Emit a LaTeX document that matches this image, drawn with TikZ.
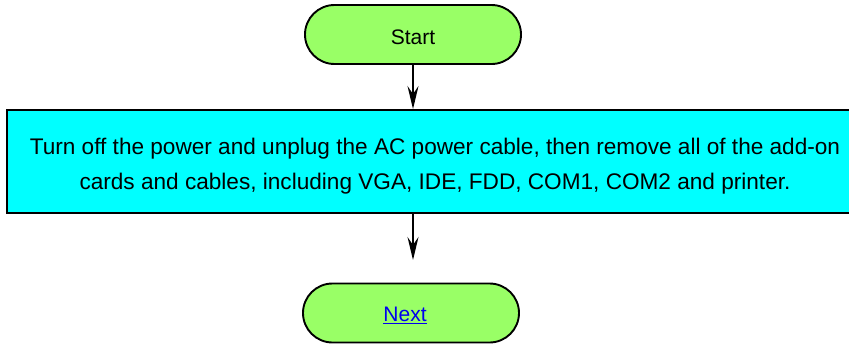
\documentclass[tikz,border=0pt]{standalone}
\usepackage{fontspec}
\setmainfont{Liberation Sans}
\usetikzlibrary{arrows.meta}
\definecolor{termgreen}{HTML}{99FF66}
\definecolor{boxcyan}{HTML}{00FFFF}
\definecolor{linkblue}{HTML}{0000EE}
\tikzset{
  term/.style={draw=black, line width=1.9pt, fill=termgreen, rounded corners=29.5pt,
    minimum width=216pt, minimum height=59pt, inner sep=0pt},
  termtext/.style={inner sep=0pt, font=\fontsize{21}{24}\selectfont},
  procbox/.style={draw=black, line width=1.9pt, fill=boxcyan, minimum width=856pt,
    minimum height=103pt, inner sep=0pt},
  boxtext/.style={inner sep=0pt, align=center, font=\fontsize{22.6}{35}\selectfont},
  flow/.style={draw=black, line width=1.9pt, -{Stealth[length=23pt, width=11pt, inset=8pt]}}
}
\begin{document}
\begin{tikzpicture}[x=1pt, y=-1pt]
\useasboundingbox (0,0) rectangle (849,343);
\clip (0,0) rectangle (849,343);
\node[term] (start) at (413,34.5) {};
\node[termtext] (starttext) at (413,37) {Start};
\node[procbox] (step1) at (435,161.5) {};
\node[boxtext] (step1text) at (435,166) {Turn off the power and unplug the AC power cable, then remove all of the add-on\\cards and cables, including VGA, IDE, FDD, COM1, COM2 and printer.};
\node[term] (next) at (411,313) {};
\node[termtext] (nexttext) at (405,315) {\textcolor{linkblue}{\underline{Next}}};
\coordinate (end2) at (413,260);
\draw[flow] (start.south -| 413,0) -- (step1.north -| 413,0);
\draw[flow] (step1.south -| 413,0) -- (end2);
\end{tikzpicture}
\end{document}
